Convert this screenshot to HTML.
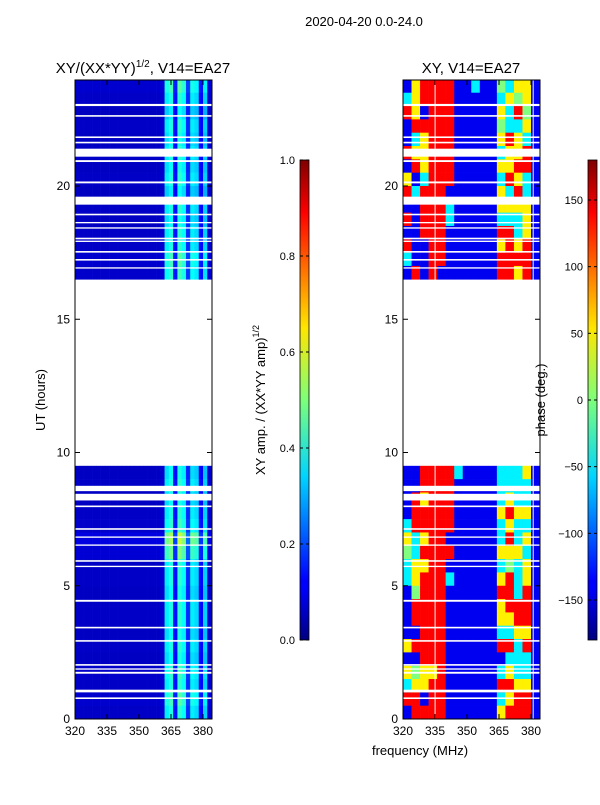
<!DOCTYPE html>
<html><head><meta charset="utf-8"><style>
body{margin:0;background:#fff;font-family:"Liberation Sans",sans-serif}
svg text{font-family:"Liberation Sans",sans-serif;fill:#000}
</style></head><body>
<svg id="fig" width="600" height="800" xmlns="http://www.w3.org/2000/svg">
<defs>
<linearGradient id="jet" x1="0" y1="1" x2="0" y2="0">
<stop offset="0" stop-color="#00007f"/><stop offset="0.11" stop-color="#0000ff"/><stop offset="0.125" stop-color="#0000ff"/>
<stop offset="0.34" stop-color="#00d4ff"/><stop offset="0.5" stop-color="#7dff7a"/><stop offset="0.65" stop-color="#ffe600"/>
<stop offset="0.89" stop-color="#ff0000"/><stop offset="1" stop-color="#7f0000"/></linearGradient>
</defs>
<text x="364" y="26" font-size="13" text-anchor="middle">2020-04-20 0.0-24.0</text>
<g id="amp"></g>
<g id="pha"></g>
<g id="axes"></g>
</svg>
<script>
const ampCols=[0.07,0.07,0.07,0.07,0.07,0.07,0.07,0.07,0.07,0.07,0.07,0.07,0.07,0.07,0.07,0.07,0.07,0.07,0.07,0.07,0.08,0.36,0.4,0.14,0.42,0.38,0.17,0.36,0.34,0.13,0.33,0.08];
const upperTimes=[23.5,23,22.5,22,21.5,21,20.5,20,19.5,19,18.5,18,17.5,17,16.5];
const lowerTimes=[9,8.5,8,7.5,7,6.5,6,5.5,5,4.5,4,3.5,3,2.5,2,1.5,1,0.5,0];
const ampRowsUpper=[1.1,1.0,0.9,1.0,0.95,1.0,0.95,1.0,0.9,1.0,0.95,1.0,1.0,1.1,1.05];
const ampRowsLower=[0.95,1.0,0.95,1.0,1.05,1.35,1.2,1.0,1.0,0.95,1.0,1.0,0.95,1.0,0.95,1.05,1.0,1.1,1.0];
const phaseKey={r:135,o:100,y:50,g:0,c:-50,b:-140};
const phaseUpper=["byrrrrbbcbbgcyyb","cyrrrrbbbbbcygyb","rybrrrbbbbbycrgb","brrrrrbbbbbgccyb","bcyrrrbbbbbyrycb","ryyrrrbbbbbcyyrb","bryrrrbbbbbyyrrb","ybcrrrbbbbbcrycb","rcrrrbbbbbbycrcb","bbrrrcbbbbbyyyyb","rbrrrcbbbbbcccyb","bbrrrbbbbbbrrcyb","rbbrrbbbbbbyryrb","cbbrrbbbbbbrrrrb","brbrbbbbbbbrryrb"];
const phaseLower=["bbrrrrcbbbbcccyb","bbrrrrbbbbbccccb","bryrrrbbbbbcyccb","brrrrrbbbbbyryyb","crrrrrbbbbbcyccb","ycyrrbbbbbbcrcyb","gcrrrrbbbbbyyycb","cyyrrbbbbbbcgcyb","cyrrrcbbbbbyrcyb","bgrrrbbbbbbrrcrb","brrrrbbbbbbyrrrb","brrrrbbbbbbyyrrb","bbrrrbbbbbbccyyb","yrrrrbbbbbbrrcrb","bbrrrbbbbbbbcccb","ygyyrbbbbbbcyccb","cyyrrbbbbbbrryyb","rrbrrbbbbbbcyrrb","brrrrbbbbbbyrrrb"];
const blankLines=[[23.0,0.08],[22.6,0.06],[21.8,0.06],[21.6,0.06],[21.1,0.3],[20.9,0.07],[20.1,0.07],[19.3,0.3],[18.9,0.06],[18.6,0.05],[18.4,0.05],[18.0,0.06],[17.9,0.05],[17.5,0.06],[17.2,0.06],[16.9,0.05],[8.55,0.2],[8.2,0.25],[7.95,0.06],[7.1,0.06],[6.8,0.05],[6.5,0.05],[5.9,0.06],[5.7,0.05],[4.4,0.07],[3.4,0.06],[2.9,0.06],[2.0,0.06],[1.85,0.05],[1.7,0.07],[1.0,0.1],[0.75,0.06]];
const yTicks=[0,5,10,15,20];
const xTicks=[320,335,350,365,380];
const ampTicks=[0.0,0.2,0.4,0.6,0.8,1.0];
const phaseTicks=[-150,-100,-50,0,50,100,150];

const NS='http://www.w3.org/2000/svg';
function jet(v){v=Math.max(0,Math.min(1,v));
 const f=x=>Math.round(255*Math.max(0,Math.min(1,1.5-Math.abs(4*v-x))));
 return `rgb(${f(3)},${f(2)},${f(1)})`;}
function el(tag,attrs,parent){const e=document.createElementNS(NS,tag);for(const k in attrs)e.setAttribute(k,attrs[k]);parent.appendChild(e);return e;}
const Y0=719,PPH=26.65;
const yS=t=>Y0-t*PPH;
const L={x0:75,x1:212},R={x0:403,x1:540};
const xS=(p,f)=>p.x0+(f-320)*128/60;
const amp=document.getElementById('amp'),pha=document.getElementById('pha'),axes=document.getElementById('axes');
function drawAmp(times,rows){
 times.forEach((t,i)=>{ampCols.forEach((a,c)=>{
  const f0=320+c*2,x=xS(L,f0),w=xS(L,Math.min(f0+2,384.2))-x;
  const r=el('rect',{x:x,y:yS(t+0.5),width:w+0.3,height:PPH*0.5+0.3,fill:jet(a*rows[i])},amp);
  
  
 });});}
drawAmp(upperTimes,ampRowsUpper);drawAmp(lowerTimes,ampRowsLower);
function drawPha(times,rows){
 times.forEach((t,i)=>{[...rows[i]].forEach((ch,c)=>{
  const f0=320+c*4,x=xS(R,f0),w=xS(R,Math.min(f0+4,384.2))-x;
  const r=el('rect',{x:x,y:yS(t+0.5),width:w+0.3,height:PPH*0.5+0.3,fill:jet((phaseKey[ch]+180)/360)},pha);
  
  
 });});}
drawPha(upperTimes,phaseUpper);drawPha(lowerTimes,phaseLower);
[L,R].forEach(p=>{
 blankLines.forEach(([t,h])=>{const r=el('rect',{x:p.x0,y:yS(t+h),width:p.x1-p.x0,height:Math.max(1.3,h*PPH),fill:'#fff'},axes);
  
  });
 el('rect',{x:p.x0,y:yS(24)-10,width:p.x1-p.x0,height:10,fill:'#fff'},axes);
});
el('rect',{x:xS(R,335)-0.5,y:80,width:1.2,height:639,fill:'#fff',opacity:0.8},axes);
el('rect',{x:xS(R,381)-0.5,y:80,width:1.2,height:639,fill:'#fff',opacity:0.8},axes);
[[L,'left'],[R,'right']].forEach(([p,nm])=>{
 const f=el('rect',{x:p.x0,y:80,width:p.x1-p.x0,height:639,fill:'none',stroke:'#000','stroke-width':1},axes);
 
 
 yTicks.forEach(v=>{const y=yS(v);
  el('line',{x1:p.x0,x2:p.x0+5,y1:y,y2:y,stroke:'#000'},axes);el('line',{x1:p.x1,x2:p.x1-5,y1:y,y2:y,stroke:'#000'},axes);
  const t=el('text',{x:p.x0-5,y:y+4,'font-size':12,'text-anchor':'end'},axes);t.textContent=v;
  
  });
 xTicks.forEach(v=>{const x=xS(p,v);
  el('line',{x1:x,x2:x,y1:719,y2:714,stroke:'#000'},axes);el('line',{x1:x,x2:x,y1:80,y2:85,stroke:'#000'},axes);
  const t=el('text',{x:x,y:735,'font-size':12,'text-anchor':'middle'},axes);t.textContent=v;
  
  });
});
[[300,ampTicks,v=>v.toFixed(1),0,1,'amp-colorbar'],[588,phaseTicks,v=>v<0?'\u2212'+(-v):String(v),-180,180,'phase-colorbar']].forEach(([x,ticks,fmt,lo,hi,nm])=>{
 const r=el('rect',{x:x,y:160,width:9,height:480,fill:'url(#jet)',stroke:'#000','stroke-width':0.8},axes);
 
 
 ticks.forEach(v=>{const y=640-(v-lo)/(hi-lo)*480;
  el('line',{x1:x,x2:x+3,y1:y,y2:y,stroke:'#000'},axes);el('line',{x1:x+9,x2:x+6,y1:y,y2:y,stroke:'#000'},axes);
  const t=el('text',{x:x-5,y:y+4,'font-size':11,'text-anchor':'end'},axes);t.textContent=fmt(v);
  
  });
});
</script>
<svg width="600" height="800" style="position:absolute;left:0;top:0" xmlns="http://www.w3.org/2000/svg">
<text x="143" y="73" font-size="15" text-anchor="middle" font-family="Liberation Sans">XY/(XX*YY)<tspan font-size="10" dy="-6">1/2</tspan><tspan dy="6">, V14=EA27</tspan></text>
<text x="471" y="73" font-size="15" text-anchor="middle" font-family="Liberation Sans">XY, V14=EA27</text>
<text transform="translate(45,400) rotate(-90)" font-size="13" text-anchor="middle" font-family="Liberation Sans">UT (hours)</text>
<text x="420" y="755" font-size="13" text-anchor="middle" font-family="Liberation Sans">frequency (MHz)</text>
<text transform="translate(265,400) rotate(-90)" font-size="13" text-anchor="middle" font-family="Liberation Sans">XY amp. / (XX*YY amp)<tspan font-size="9" dy="-6">1/2</tspan></text>
<text transform="translate(545,400) rotate(-90)" font-size="13" text-anchor="middle" font-family="Liberation Sans">phase (deg.)</text>
</svg>
</body></html>
